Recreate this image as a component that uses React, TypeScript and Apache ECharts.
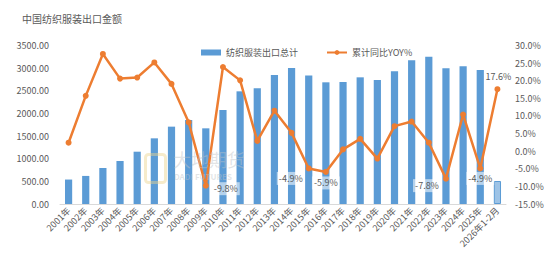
import React, { useEffect, useRef } from "react";
import * as echarts from "echarts";

const categories = [
  "2001年", "2002年", "2003年", "2004年", "2005年", "2006年", "2007年", "2008年", "2009年",
  "2010年", "2011年", "2012年", "2013年", "2014年", "2015年", "2016年", "2017年", "2018年",
  "2019年", "2020年", "2021年", "2022年", "2023年", "2024年", "2025年", "2026年1-2月",
];
const exportTotal = [
  540, 620, 795, 950, 1155, 1450, 1708, 1855, 1671, 2076, 2488, 2555, 2849, 3003, 2838,
  2687, 2694, 2797, 2738, 2930, 3173, 3253, 2996, 3040, 2959, 508,
];
const yoy = [
  2.4, 15.7, 27.6, 20.6, 20.9, 25.2, 19.1, 8.2, -9.8, 23.9, 20.1, 2.9, 11.5, 5.2, -4.9,
  -5.9, 0.5, 3.5, -2.1, 7.1, 8.4, 2.4, -7.8, 10.4, -4.9, 17.6,
];
// label offsets for annotated points (index -> [dx, dy])
const labelOffsets: Record<number, number[]> = {
  8: [20, 3],
  14: [-18, 10],
  15: [0, 11],
  22: [-19, 7],
  24: [0, 10],
};
const leftTicks = { min: 0, max: 3500, interval: 500 };
const rightTicks = { min: -15, max: 30, interval: 5 };

const FONT = "'Noto Sans CJK SC', 'Noto Sans', sans-serif";
const GRAY = "#595959";

export default function App() {
  const ref = useRef<HTMLDivElement>(null);
  useEffect(() => {
    if (!ref.current) return;
    document.body.style.margin = "0";
    const chart = echarts.init(ref.current, undefined, { renderer: "svg" });
    const lastIdx = categories.length - 1;
    chart.setOption({
      animation: false,
      textStyle: { fontFamily: FONT },
      title: {
        text: "中国纺织服装出口金额",
        left: 17,
        top: 8,
        textStyle: { fontSize: 10, fontWeight: "normal", color: GRAY, fontFamily: FONT },
      },
      legend: {
        left: 196,
        top: 43,
        itemGap: 28,
        itemWidth: 20,
        itemHeight: 6,
        textStyle: { fontSize: 9, color: GRAY, fontFamily: FONT },
        data: [
          { name: "纺织服装出口总计", icon: "rect" },
          { name: "累计同比YOY%" },
        ],
      },
      grid: { left: 60, right: 44, top: 45.5, bottom: 58 },
      graphic: [
        {
          type: "rect",
          left: 143,
          top: 152,
          shape: { width: 20, height: 28, r: 3 },
          style: { fill: "none", stroke: "rgba(235,210,140,0.45)", lineWidth: 3 },
          z: 10,
        },
        {
          type: "text",
          left: 173,
          top: 150,
          style: {
            text: "大地期货",
            fontSize: 18,
            fontFamily: FONT,
            fill: "rgba(190,195,200,0.45)",
          },
          z: 10,
        },
        {
          type: "text",
          left: 174,
          top: 172,
          style: {
            text: "DADI FUTURES",
            fontSize: 8,
            fontWeight: "bold",
            fontFamily: FONT,
            fill: "rgba(190,195,200,0.45)",
          },
          z: 10,
        },
      ],
      xAxis: {
        type: "category",
        data: categories,
        axisLine: { lineStyle: { color: "#d9d9d9" } },
        axisTick: { show: false },
        axisLabel: {
          interval: 0,
          rotate: 45,
          fontSize: 9,
          color: GRAY,
          margin: 5,
          fontFamily: FONT,
        },
      },
      yAxis: [
        {
          type: "value",
          ...leftTicks,
          splitLine: { show: false },
          axisLine: { show: false },
          axisTick: { show: false },
          axisLabel: {
            fontSize: 9,
            color: GRAY,
            margin: 11,
            fontFamily: FONT,
            formatter: (v: number) => v.toFixed(2),
          },
        },
        {
          type: "value",
          ...rightTicks,
          splitLine: { show: false },
          axisLine: { show: false },
          axisTick: { show: false },
          axisLabel: {
            fontSize: 9,
            color: GRAY,
            margin: 9,
            fontFamily: FONT,
            formatter: (v: number) => v.toFixed(1) + "%",
          },
        },
      ],
      series: [
        {
          name: "纺织服装出口总计",
          type: "bar",
          barWidth: "42%",
          itemStyle: { color: "#5b9bd5" },
          data: exportTotal.map((v, i) =>
            i === lastIdx
              ? { value: v, itemStyle: { color: "#9dc3e6", borderColor: "#5b9bd5", borderWidth: 1 } }
              : v
          ),
          z: 2,
        },
        {
          name: "累计同比YOY%",
          type: "line",
          yAxisIndex: 1,
          symbol: "circle",
          symbolSize: 6,
          lineStyle: { color: "#ed7d31", width: 2.5 },
          itemStyle: { color: "#ed7d31" },
          z: 3,
          data: yoy.map((v, i) => {
            if (labelOffsets[i]) {
              return {
                value: v,
                label: {
                  show: true,
                  position: "inside",
                  offset: labelOffsets[i],
                  formatter: (p: any) => p.value.toFixed(1) + "%",
                  fontSize: 9,
                  color: GRAY,
                  backgroundColor: "rgba(255,255,255,0.55)",
                  padding: [2, 2],
                  fontFamily: FONT,
                },
              };
            }
            if (i === lastIdx) {
              return {
                value: v,
                label: {
                  show: true,
                  position: "inside",
                  offset: [1, -13],
                  formatter: (p: any) => p.value.toFixed(1) + "%",
                  fontSize: 9,
                  color: GRAY,
                  fontFamily: FONT,
                },
              };
            }
            return v;
          }),
        },
      ],
    });
    return () => chart.dispose();
  }, []);
  return <div ref={ref} style={{ width: 550, height: 262 }} />;
}
